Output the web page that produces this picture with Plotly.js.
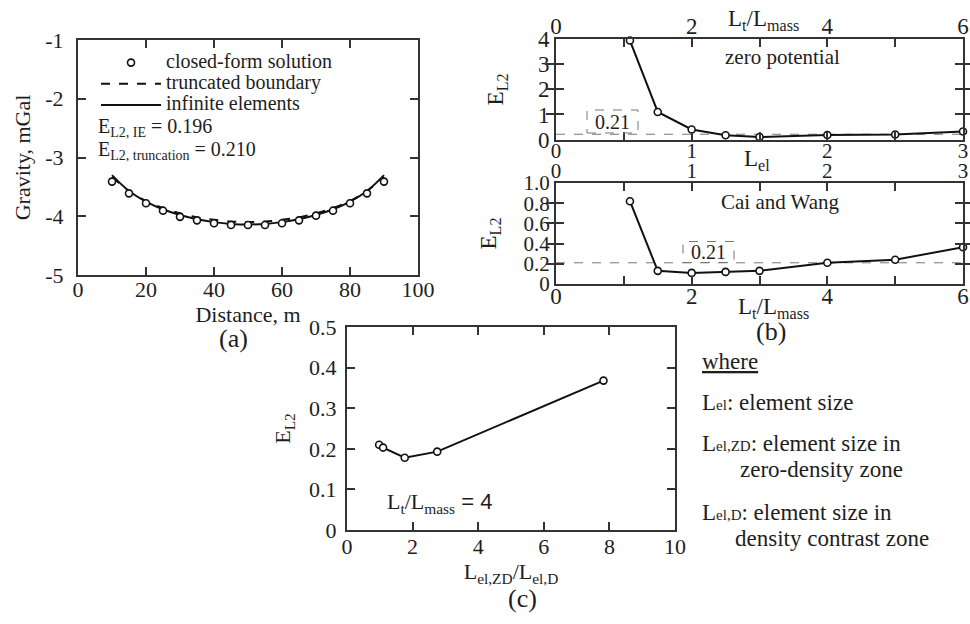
<!DOCTYPE html>
<html>
<head>
<meta charset="utf-8">
<script src="https://cdn.plot.ly/plotly-3.0.1.min.js"></script>
<style>html,body{margin:0;padding:0;background:#fff;}#chart{width:970px;height:624px;}</style>
</head>
<body>
<div id="chart"></div>
<script>
// ---------- data: panel (a) ----------
const distA = [10,15,20,25,30,35,40,45,50,55,60,65,70,75,80,85,90];
const closedForm = [-3.41,-3.61,-3.78,-3.905,-4.01,-4.07,-4.12,-4.15,-4.15,-4.15,-4.12,-4.07,-3.99,-3.905,-3.78,-3.61,-3.41];
const truncatedBoundary = [-3.33,-3.57,-3.74,-3.86,-3.95,-4.02,-4.06,-4.09,-4.10,-4.09,-4.06,-4.02,-3.95,-3.86,-3.74,-3.57,-3.33];
const infiniteElements = [-3.30,-3.57,-3.75,-3.88,-3.98,-4.05,-4.10,-4.13,-4.14,-4.13,-4.10,-4.05,-3.98,-3.88,-3.75,-3.57,-3.30];
const xTicksA = [0,20,40,60,80,100];
const yTicksA = [-5,-4,-3,-2,-1];
const yTickTextA = ['-5','-4','-3','-2','-1'];

// ---------- data: panel (b) ----------
const ratioB = [1.09,1.5,2,2.5,3,4,5,6];           // Lt/Lmass
const errZeroPotential = [3.95,1.10,0.40,0.17,0.10,0.18,0.20,0.32];
const errCaiWang = [0.82,0.13,0.11,0.12,0.13,0.21,0.24,0.365];
const threshold = 0.21;
const ratioTicks = [0,2,4,6];
const lelTicks = [0,1,2,3];
const yTicksBTop = [0,1,2,3,4];
const yTicksBLow = [0,0.2,0.4,0.6,0.8,1.0];
const yTickTextBLow = ['0','0.2','0.4','0.6','0.8','1.0'];

// ---------- data: panel (c) ----------
const ratioC = [0.98,1.10,1.76,2.75,7.82];        // Lel,ZD / Lel,D
const errC = [0.21,0.203,0.178,0.193,0.368];
const xTicksC = [0,2,4,6,8,10];
const yTicksC = [0,0.1,0.2,0.3,0.4,0.5];
const yTickTextC = ['0','0.1','0.2','0.3','0.4','0.5'];

// ---------- helpers ----------
const W = 970, H = 624;
const px = v => v / W;
const py = v => 1 - v / H;
const SERIF = 'Liberation Serif';
const TXT = '#1e1e1e';
const AX = '#333333';

function axis(extra) {
  return Object.assign({
    showline: true, linecolor: AX, linewidth: 2,
    ticks: 'inside', ticklen: 8, tickwidth: 2, tickcolor: AX,
    showgrid: false, zeroline: false, fixedrange: true,
    tickfont: {family: SERIF, size: 22, color: TXT}
  }, extra);
}
const minorTicks = d => ({dtick: d, ticks: 'inside', ticklen: 8, tickwidth: 2, tickcolor: AX, showgrid: false});
const fB = {family: SERIF, size: 23, color: TXT};
const fBmid = {family: SERIF, size: 21, color: TXT};

const markerStyle = {symbol: 'circle', size: 7, color: '#ffffff', line: {color: '#111', width: 1.6}};
const lineStyle = {color: '#111', width: 2};
// empty helper trace so that a secondary (Lel) axis is registered and drawn
const axisHolder = (xa, ya) => ({x: lelTicks, y: lelTicks.map(() => null), xaxis: xa, yaxis: ya,
  mode: 'lines', showlegend: false, hoverinfo: 'skip', line: {width: 0}});

const traces = [
  {x: distA, y: truncatedBoundary, xaxis: 'x', yaxis: 'y', mode: 'lines',
   name: '<span style="font-size:20px">truncated boundary</span>',
   line: {color: '#111', width: 2, dash: 'dash', shape: 'spline'}, legendrank: 2},
  {x: distA, y: infiniteElements, xaxis: 'x', yaxis: 'y', mode: 'lines',
   name: '<span style="font-size:20px">infinite elements</span>',
   line: {color: '#111', width: 2, shape: 'spline'}, legendrank: 3},
  {x: distA, y: closedForm, xaxis: 'x', yaxis: 'y', mode: 'markers',
   name: '<span style="font-size:20px">closed-form solution</span>',
   marker: markerStyle, legendrank: 1},
  axisHolder('x2', 'y2'),
  {x: ratioB, y: errZeroPotential, xaxis: 'x3', yaxis: 'y2', mode: 'lines+markers',
   showlegend: false, line: lineStyle, marker: markerStyle, cliponaxis: false},
  {x: ratioB, y: errCaiWang, xaxis: 'x4', yaxis: 'y3', mode: 'lines+markers',
   showlegend: false, line: lineStyle, marker: markerStyle, cliponaxis: false},
  axisHolder('x5', 'y3'),
  {x: ratioC, y: errC, xaxis: 'x6', yaxis: 'y4', mode: 'lines+markers',
   showlegend: false, line: lineStyle, marker: markerStyle}
];

const domA = {x: [px(78), px(418)], y: [py(275), py(40)]};
const domBT = {x: [px(556), px(963)], y: [py(139.5), py(39.3)]};
const domBL = {x: [px(556), px(963)], y: [py(284), py(183)]};
const domC = {x: [px(347), px(675)], y: [py(530), py(327)]};

function note(x, y, text, size, anchor, family) {
  return {xref: 'paper', yref: 'paper', x: px(x), y: py(y), xanchor: anchor || 'center', yanchor: 'middle',
          showarrow: false, text: text, font: {family: family || SERIF, size: size, color: TXT}};
}

const layout = {
  width: W, height: H,
  margin: {l: 0, r: 0, t: 0, b: 0},
  paper_bgcolor: '#ffffff', plot_bgcolor: 'rgba(0,0,0,0)',
  font: {family: SERIF, color: TXT},
  showlegend: true,
  legend: {x: px(96), y: py(47), xanchor: 'left', yanchor: 'top',
           font: {family: SERIF, size: 14, color: TXT}, itemwidth: 60,
           bgcolor: 'rgba(0,0,0,0)', borderwidth: 0, tracegroupgap: 0, traceorder: 'normal'},
  // panel (a)
  xaxis: axis({domain: domA.x, anchor: 'y', range: [0, 100], tickvals: xTicksA, mirror: 'allticks',
    ticklabelstandoff: -6,
    title: {text: 'Distance, m', font: {family: SERIF, size: 22, color: TXT}, standoff: 0}}),
  yaxis: axis({domain: domA.y, anchor: 'x', range: [-5, -1], tickvals: yTicksA, ticktext: yTickTextA, mirror: 'allticks',
    ticklabelstandoff: 8,
    title: {text: 'Gravity, mGal', font: {family: SERIF, size: 22, color: TXT}, standoff: 9}}),
  // panel (b) top : bottom axis = Lel, top axis = Lt/Lmass
  xaxis2: axis({domain: domBT.x, anchor: 'y2', range: [0, 3], tickvals: lelTicks, minor: minorTicks(0.5),
    tickfont: fBmid, ticklabelstandoff: -9}),
  xaxis3: axis({domain: domBT.x, overlaying: 'x2', side: 'top', anchor: 'y2', range: [0, 6], tickvals: ratioTicks,
    minor: minorTicks(1), tickfont: fB, ticklabelstandoff: -6}),
  yaxis2: axis({domain: domBT.y, anchor: 'x2', range: [0, 4], tickvals: yTicksBTop, mirror: 'allticks',
    tickfont: fB, ticklabelstandoff: 0,
    title: {text: 'E<sub>L2</sub>', font: fB, standoff: 28}}),
  // panel (b) lower : bottom axis = Lt/Lmass, top axis = Lel
  xaxis4: axis({domain: domBL.x, anchor: 'y3', range: [0, 6], tickvals: ratioTicks, minor: minorTicks(1),
    tickfont: fB, ticklabelstandoff: -10}),
  xaxis5: axis({domain: domBL.x, overlaying: 'x4', side: 'top', anchor: 'y3', range: [0, 3], tickvals: lelTicks,
    minor: minorTicks(0.5), tickfont: fBmid, ticklabelstandoff: -5}),
  yaxis3: axis({domain: domBL.y, anchor: 'x4', range: [0, 1], tickvals: yTicksBLow, ticktext: yTickTextBLow, mirror: 'allticks',
    tickfont: {family: SERIF, size: 21, color: TXT}, ticklabelstandoff: 0,
    title: {text: 'E<sub>L2</sub>', font: fB, standoff: 20}}),
  // panel (c)
  xaxis6: axis({domain: domC.x, anchor: 'y4', range: [0, 10], tickvals: xTicksC, mirror: 'allticks',
    ticklabelstandoff: -4,
    title: {text: 'L<sub>el,ZD</sub>/L<sub>el,D</sub>', font: {family: SERIF, size: 22, color: TXT}, standoff: 4}}),
  yaxis4: axis({domain: domC.y, anchor: 'x6', range: [0, 0.5], tickvals: yTicksC, ticktext: yTickTextC, mirror: 'allticks',
    ticklabelstandoff: 4,
    title: {text: 'E<sub>L2</sub>', font: {family: SERIF, size: 22, color: TXT}, standoff: 12}}),
  shapes: [
    {type: 'line', xref: 'x2 domain', yref: 'y2', x0: 0, x1: 1, y0: threshold, y1: threshold,
     line: {color: '#777', width: 1, dash: 'dash'}, layer: 'below'},
    {type: 'line', xref: 'x4 domain', yref: 'y3', x0: 0, x1: 1, y0: threshold, y1: threshold,
     line: {color: '#777', width: 1, dash: 'dash'}, layer: 'below'},
    {type: 'rect', xref: 'paper', yref: 'paper', x0: px(587), x1: px(638), y0: py(133), y1: py(110),
     line: {color: '#777', width: 1, dash: 'dash'}},
    {type: 'rect', xref: 'paper', yref: 'paper', x0: px(683), x1: px(734), y0: py(262.5), y1: py(241.5),
     line: {color: '#777', width: 1, dash: 'dash'}}
  ],
  annotations: [
    note(96, 128, 'E<sub>L2, IE</sub> = 0.196', 20, 'left'),
    note(96, 150, 'E<sub>L2, truncation</sub> = 0.210', 20, 'left'),
    note(233, 338, '(a)', 26),
    note(763, 20, 'L<sub>t</sub>/L<sub>mass</sub>', 23),
    note(757, 160, 'L<sub>el</sub>', 23),
    note(773, 308, 'L<sub>t</sub>/L<sub>mass</sub>', 23),
    note(782, 57, 'zero potential', 21),
    note(780, 202, 'Cai and Wang', 21),
    note(612.5, 122, '0.21', 20),
    note(708.5, 252, '0.21', 20),
    note(771, 331, '(b)', 26),
    note(385, 503, 'L<sub>t</sub>/L<sub>mass</sub><span style="font-family:Liberation Sans"> = 4</span>', 22, 'left'),
    note(522, 598, '(c)', 26),
    note(700, 361, '<u>where</u>', 23, 'left'),
    note(700, 402, 'L<span style="font-size:15px">el</span>: element size', 23, 'left'),
    note(700, 443, 'L<span style="font-size:15px">el,ZD</span>: element size in', 23, 'left'),
    note(738, 469, 'zero-density zone', 23, 'left'),
    note(700, 512, 'L<span style="font-size:15px">el,D</span>: element size in', 23, 'left'),
    note(733, 538, 'density contrast zone', 23, 'left')
  ]
};

Plotly.newPlot('chart', traces, layout, {displayModeBar: false, staticPlot: true});
</script>
</body>
</html>
